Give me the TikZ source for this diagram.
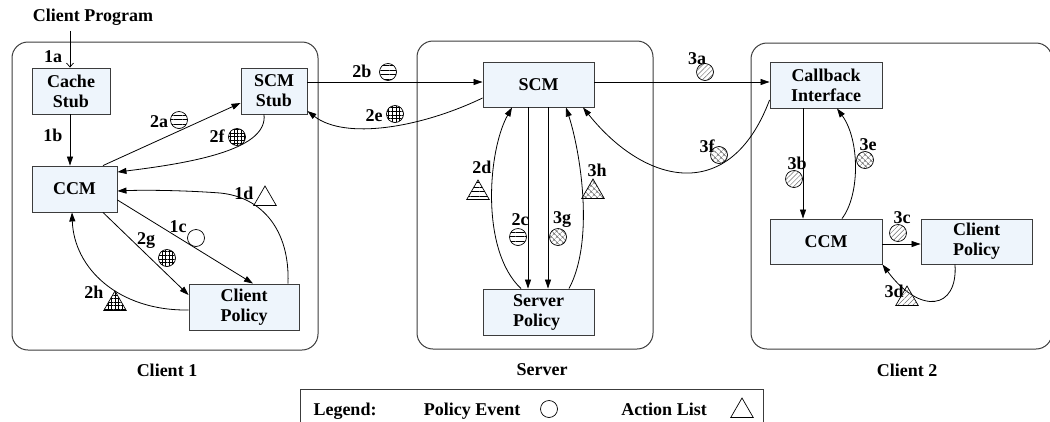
\documentclass[tikz,border=0pt]{standalone}
\usepackage{fontspec}
\setmainfont{Liberation Serif}
\usetikzlibrary{arrows.meta,patterns.meta,shapes.geometric}
\definecolor{boxfill}{HTML}{EEF5FC}
\definecolor{boxline}{HTML}{3C3C3C}
\definecolor{hatchgray}{HTML}{6E6E6E}
\tikzset{
  every node/.style={font=\fontsize{18}{20}\selectfont\bfseries},
  container/.style={draw=boxline, line width=1pt, rounded corners=16pt},
  box/.style={draw=boxline, fill=boxfill, line width=0.9pt, align=center, inner sep=0pt},
  conn/.style={line width=0.8pt, -{Triangle[length=9pt,width=6pt]}},
  entry/.style={line width=0.7pt, -{Straight Barb[length=4pt,width=7pt]}},
  evt/.style={circle, draw, line width=0.7pt, minimum size=17pt, inner sep=0pt},
  act/.style={regular polygon, regular polygon sides=3, draw, line width=0.7pt, minimum size=26pt, inner sep=0pt},
  hl/.style={pattern={Lines[angle=0,distance=4.5pt,line width=0.9pt]}},
  gr/.style={pattern={Hatch[angle=0,distance=3.6pt,line width=0.7pt]}},
  dg/.style={pattern={Lines[angle=45,distance=3.5pt,line width=0.5pt]}, pattern color=hatchgray},
  xh/.style={pattern={Hatch[angle=45,distance=4pt,line width=0.5pt]}, pattern color=hatchgray},
}
\begin{document}
\begin{tikzpicture}[x=1pt,y=-1pt]
\useasboundingbox (0,0) rectangle (1050,421);
\clip (0,0) rectangle (1050,421);

% hosts
\node[container, minimum width=306pt, minimum height=308pt] (c1) at (165,196) {};
\node[container, minimum width=236pt, minimum height=308pt] (srv) at (535,195) {};
\node[container, minimum width=301pt, minimum height=306pt] (c2) at (901.5,196) {};
\node (t1) at (167,370) {Client 1};
\node (t2) at (542,370) {Server};
\node (t3) at (907,370) {Client 2};

% components
\node (prog) at (93,17) {Client Program};
\node[box, minimum width=78pt, minimum height=46pt] (cache) at (71,91) {Cache\\Stub};
\node[box, minimum width=66pt, minimum height=46pt] (ss) at (274,91) {SCM\\Stub};
\node[box, minimum width=85pt, minimum height=46pt] (ccm1) at (74.5,189) {CCM};
\node[box, minimum width=110pt, minimum height=46pt] (cp1) at (244,307) {Client\\Policy};
\node[box, minimum width=111pt, minimum height=45pt] (scm) at (538.5,84.5) {SCM};
\node[box, minimum width=111pt, minimum height=46pt, align=left] (sp) at (538.5,312) {Server\\Policy};
\node[box, minimum width=112pt, minimum height=46pt] (cb) at (826,85) {Callback\\Interface};
\node[box, minimum width=112pt, minimum height=45pt] (ccm2) at (826,241.5) {CCM};
\node[box, minimum width=111pt, minimum height=45pt] (cp2) at (976.5,241.5) {Client\\Policy};

% client 1 flows
\draw[entry] ([yshift=-2pt]prog.south -| 70,0) -- (cache.north -| 70,0);
\draw[conn] (cache.south -| 70,0) -- (ccm1.north -| 70,0);
\draw[conn] (ccm1.north -| 103,0) -- (ss.west |- 0,103);
\draw[conn] (ss.south -| 264,0) .. controls (268,148) and (200,162) .. (ccm1.east |- 0,172);
\draw[conn] (ccm1.east |- 0,200) -- (cp1.north -| 253,0);
\draw[conn] (cp1.north -| 288,0) .. controls (290,230) and (262,197) .. (220,193)
            .. controls (180,190) and (140,190) .. (ccm1.east |- 0,191);
\draw[conn] (ccm1.south -| 103,0) -- (cp1.west |- 0,295);
\draw[conn] (cp1.west |- 0,310) .. controls (118,311) and (74,268) .. (ccm1.south -| 72,0);

% client 1 <-> server
\draw[conn] (ss.east |- 0,82) -- (scm.west |- 0,82);
\draw[conn] (scm.west |- 0,98) .. controls (420,128) and (345,140) .. (ss.east |- 0,111);

% server flows
\draw[conn] (sp.north -| 521,0) .. controls (480,250) and (488,150) .. (scm.south -| 512,0);
\draw[conn] (scm.south -| 528,0) -- (sp.north -| 528,0);
\draw[conn] (scm.south -| 548,0) -- (sp.north -| 548,0);
\draw[conn] (sp.north -| 569,0) .. controls (595,240) and (580,150) .. (scm.south -| 566,0);

% server <-> client 2
\draw[conn] (scm.east |- 0,82) -- (cb.west |- 0,82);
\draw[conn] (cb.west |- 0,100) .. controls (730,205) and (645,185) .. (scm.south -| 583,0);

% client 2 flows
\draw[conn] (cb.south -| 803,0) -- (ccm2.north -| 803,0);
\draw[conn] (ccm2.north -| 842,0) .. controls (860,195) and (860,140) .. (cb.south -| 837,0);
\draw[conn] (ccm2.east |- 0,244) -- (cp2.west |- 0,244);
\draw[conn] (cp2.south -| 955,0) .. controls (958,310) and (920,315) .. (ccm2.south east);

% step labels and markers
\node (l1a) at (53,57) {1a};
\node (l1b) at (53,135) {1b};
\node (l2a) at (159,122) {2a};  \node[evt,hl] (m2a) at (179,120) {};
\node (l2f) at (217,136) {2f};  \node[evt,gr] (m2f) at (237,137) {};
\node (l1d) at (244,193) {1d};  \node[act] (m1d) at (265,199) {};
\node (l1c) at (178,227) {1c};  \node[evt] (m1c) at (196,238) {};
\node (l2g) at (146,241) {2g};  \node[evt,gr] (m2g) at (167,258) {};
\node (l2h) at (94,292) {2h};   \node[act,gr] (m2h) at (115,304) {};
\node (l2b) at (362,71) {2b};   \node[evt,hl] (m2b) at (388,72) {};
\node (l2e) at (374,116) {2e};  \node[evt,gr] (m2e) at (395,114) {};
\node (l3a) at (697,59) {3a};   \node[evt,dg] (m3a) at (705,72) {};
\node (l3f) at (707,146) {3f};  \node[evt,xh] (m3f) at (719,155) {};
\node (l2d) at (482,167) {2d};  \node[act,hl] (m2d) at (478,193) {};
\node (l3h) at (597,170) {3h};  \node[act,xh] (m3h) at (593,192) {};
\node (l2c) at (520,220) {2c};  \node[evt,hl] (m2c) at (518,237) {};
\node (l3g) at (562,220) {3g};  \node[evt,xh] (m3g) at (558,237) {};
\node (l3b) at (797,163) {3b};  \node[evt,dg] (m3b) at (794,179) {};
\node (l3e) at (868,145) {3e};  \node[evt,xh] (m3e) at (865,160) {};
\node (l3c) at (902,218) {3c};  \node[evt,dg] (m3c) at (898,233) {};
\node (l3d) at (894,291) {3d};  \node[act,dg] (m3d) at (907,299) {};

% legend
\node[draw=boxline, line width=0.9pt, minimum width=463pt, minimum height=60pt] (legend) at (532,419) {};
\node[anchor=base] (lg) at (345,415) {Legend:};
\node[anchor=base] (lpe) at (472,415) {Policy Event};
\node[evt] (lpem) at (549,409) {};
\node[anchor=base] (lal) at (664,415) {Action List};
\node[act] (lalm) at (742,411) {};
\end{tikzpicture}
\end{document}
